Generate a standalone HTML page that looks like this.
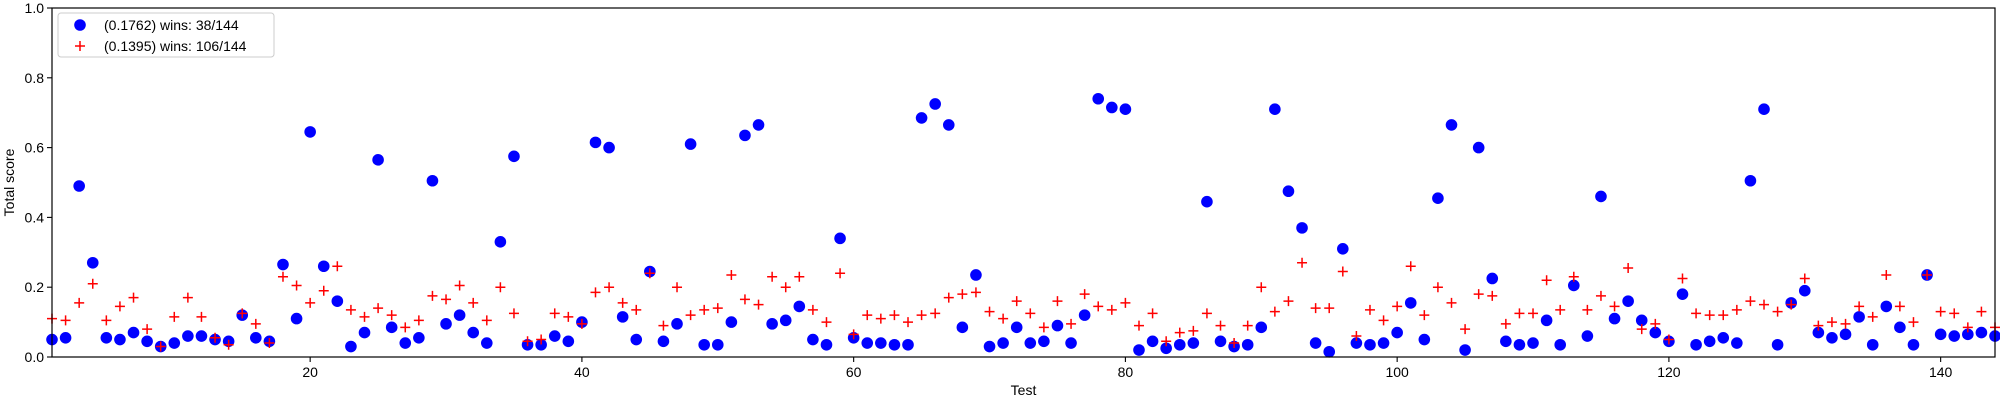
<!DOCTYPE html>
<html><head><meta charset="utf-8"><style>
body{margin:0;background:#fff;}
svg{display:block;font-family:"Liberation Sans","DejaVu Sans",sans-serif;}
</style></head><body>
<svg id="chart" width="2000" height="400">
<g id="plot"></g>
</svg>
<script>
const categories = Array.from({length:144},(_,i)=>i+1);
const seriesA = [0.05,0.055,0.49,0.27,0.055,0.05,0.07,0.045,0.03,0.04,0.06,0.06,0.05,0.045,0.12,0.055,0.045,0.265,0.11,0.645,0.26,0.16,0.03,0.07,0.565,0.085,0.04,0.055,0.505,0.095,0.12,0.07,0.04,0.33,0.575,0.035,0.035,0.06,0.045,0.1,0.615,0.6,0.115,0.05,0.245,0.045,0.095,0.61,0.035,0.035,0.1,0.635,0.665,0.095,0.105,0.145,0.05,0.035,0.34,0.055,0.04,0.04,0.035,0.035,0.685,0.725,0.665,0.085,0.235,0.03,0.04,0.085,0.04,0.045,0.09,0.04,0.12,0.74,0.715,0.71,0.02,0.045,0.025,0.035,0.04,0.445,0.045,0.03,0.035,0.085,0.71,0.475,0.37,0.04,0.015,0.31,0.04,0.035,0.04,0.07,0.155,0.05,0.455,0.665,0.02,0.6,0.225,0.045,0.035,0.04,0.105,0.035,0.205,0.06,0.46,0.11,0.16,0.105,0.07,0.045,0.18,0.035,0.045,0.055,0.04,0.505,0.71,0.035,0.155,0.19,0.07,0.055,0.065,0.115,0.035,0.145,0.085,0.035,0.235,0.065,0.06,0.065,0.07,0.06];
const seriesB = [0.11,0.105,0.155,0.21,0.105,0.145,0.17,0.08,0.03,0.115,0.17,0.115,0.055,0.035,0.125,0.095,0.04,0.23,0.205,0.155,0.19,0.26,0.135,0.115,0.14,0.12,0.085,0.105,0.175,0.165,0.205,0.155,0.105,0.2,0.125,0.045,0.05,0.125,0.115,0.095,0.185,0.2,0.155,0.135,0.24,0.09,0.2,0.12,0.135,0.14,0.235,0.165,0.15,0.23,0.2,0.23,0.135,0.1,0.24,0.065,0.12,0.11,0.12,0.1,0.12,0.125,0.17,0.18,0.185,0.13,0.11,0.16,0.125,0.085,0.16,0.095,0.18,0.145,0.135,0.155,0.09,0.125,0.045,0.07,0.075,0.125,0.09,0.04,0.09,0.2,0.13,0.16,0.27,0.14,0.14,0.245,0.06,0.135,0.105,0.145,0.26,0.12,0.2,0.155,0.08,0.18,0.175,0.095,0.125,0.125,0.22,0.135,0.23,0.135,0.175,0.145,0.255,0.08,0.095,0.05,0.225,0.125,0.12,0.12,0.135,0.16,0.15,0.13,0.15,0.225,0.09,0.1,0.095,0.145,0.115,0.235,0.145,0.1,0.235,0.13,0.125,0.085,0.13,0.085];
const xTicks = [20,40,60,80,100,120,140];
const yTicks = [0.0,0.2,0.4,0.6,0.8,1.0];
const legendLabels = ["(0.1762) wins: 38/144","(0.1395) wins: 106/144"];

const L=52,R=1995,T=8,B=357;
const xs=v=>L+(v-1)/(144-1)*(R-L);
const ys=v=>B-v*(B-T);
const NS="http://www.w3.org/2000/svg";
const svg=document.getElementById('chart');
const plot=document.getElementById('plot');
function mk(tag,attrs,parent){const e=document.createElementNS(NS,tag);for(const k in attrs)e.setAttribute(k,attrs[k]);(parent||svg).appendChild(e);return e;}

categories.forEach((c,i)=>{
  const p=mk('circle',{cx:xs(c),cy:ys(seriesA[i]),r:5.8,fill:'#0000ff'},plot);
  
  
});
categories.forEach((c,i)=>{
  const x=xs(c),y=ys(seriesB[i]);
  const p=mk('path',{d:`M${x-5},${y}H${x+5}M${x},${y-5}V${y+5}`,stroke:'#ff0000','stroke-width':1.5,fill:'none'},plot);
  
  
});

const frame=mk('rect',{x:L,y:T,width:R-L,height:B-T,fill:'none',stroke:'#000','stroke-width':1.2});



xTicks.forEach(t=>{
  const x=xs(t);
  const tk=mk('line',{x1:x,x2:x,y1:B,y2:B+5,stroke:'#000','stroke-width':1.1});
  
  
  const lb=mk('text',{x:x,y:B+20,'font-size':14,'text-anchor':'middle',fill:'#000'});
  lb.textContent=t;
  
  
});
yTicks.forEach(t=>{
  const y=ys(t);
  const tk=mk('line',{x1:L-5,x2:L,y1:y,y2:y,stroke:'#000','stroke-width':1.1});
  
  
  const lb=mk('text',{x:L-8,y:y+5,'font-size':14,'text-anchor':'end',fill:'#000'});
  lb.textContent=t.toFixed(1);
  
  
});
const xt=mk('text',{x:(L+R)/2,y:395,'font-size':14,'text-anchor':'middle'});
xt.textContent='Test';


const yt=mk('text',{x:0,y:0,'font-size':14,'text-anchor':'middle',transform:`translate(14,${(T+B)/2}) rotate(-90)`});
yt.textContent='Total score';



const lg=mk('g',{});


mk('rect',{x:58,y:13,width:216,height:44,rx:3,fill:'#fff',stroke:'#ccc','stroke-width':1},lg);
const e1=mk('circle',{cx:80,cy:25,r:5.8,fill:'#0000ff'},lg);


const t1=mk('text',{x:104,y:30,'font-size':14},lg);
t1.textContent=legendLabels[0];


const e2=mk('path',{d:'M75,46H85M80,41V51',stroke:'#ff0000','stroke-width':1.5},lg);


const t2=mk('text',{x:104,y:51,'font-size':14},lg);
t2.textContent=legendLabels[1];


</script>
</body></html>
